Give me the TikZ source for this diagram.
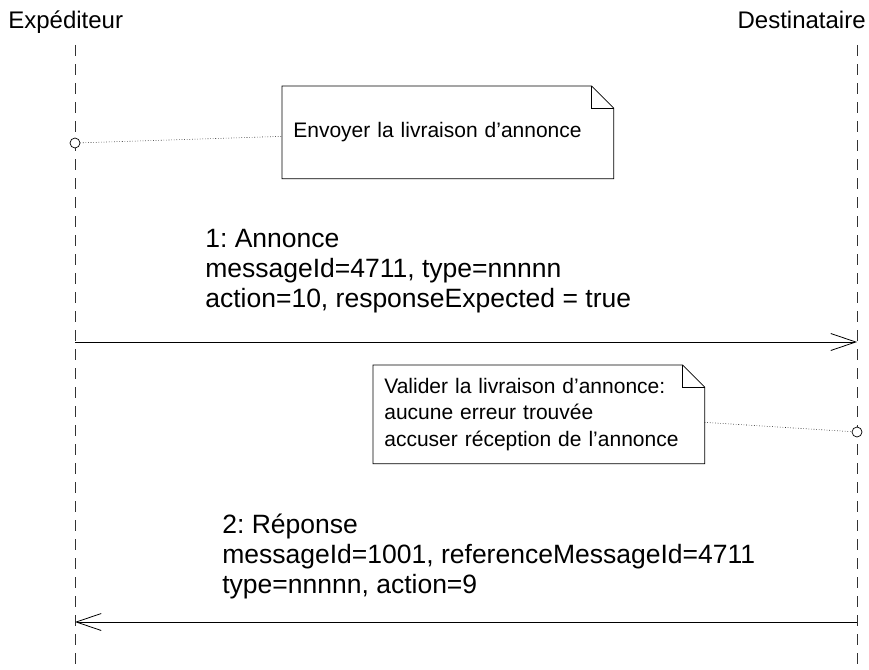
\documentclass[tikz,border=0pt]{standalone}
\usepackage{fontspec}
\setmainfont{Liberation Sans}
\usetikzlibrary{positioning, arrows.meta, calc}
\frenchspacing

\tikzset{
  lifeline/.style={draw=black!80, line width=0.7pt, dash pattern=on 11pt off 8pt},
  notebox/.style={inner xsep=11pt, minimum height=#1, align=left,
    font=\fontsize{21}{26.5}\selectfont, text width=309pt, anchor=north west},
  msgtext/.style={inner sep=0pt, align=left, anchor=west,
    font=\fontsize{26.5}{30}\selectfont},
  anchorpt/.style={circle, draw, fill=white, inner sep=0pt, minimum size=10pt},
  msg/.style={-{Straight Barb[length=25pt, width=17pt]}, line width=0.8pt}
}

\begin{document}
\begin{tikzpicture}[x=1pt, y=-1pt, line width=0.7pt]
  \useasboundingbox (0,0) rectangle (869,669);
  % actors
  \node[anchor=west, inner sep=0pt, font=\fontsize{24}{28}\selectfont] (exp) at (8,22) {Expéditeur};
  \node[anchor=east, inner sep=0pt, font=\fontsize{24}{28}\selectfont] (dst) at (866,20) {Destinataire};
  \coordinate (e0) at (75,45);   \coordinate (e1) at (75,669);
  \coordinate (d0) at (857,45);  \coordinate (d1) at (857,669);
  \draw[lifeline] (e0) -- (e1);
  \draw[lifeline] (d0) -- (d1);

  % notes
  \node[notebox=92pt] (n1) at (282,86) {Envoyer la livraison d’annonce};
  \draw (n1.north west) -- ($(n1.north east)+(-22,0)$) -- ($(n1.north east)+(0,22)$)
    -- (n1.south east) -- (n1.south west) -- cycle;
  \draw ($(n1.north east)+(-22,0)$) |- ($(n1.north east)+(0,22)$);
  \node[anchorpt] (c1) at (75,143) {};
  \draw[dotted, line width=0.6pt] (c1) -- ($(n1.west)+(0,4)$);

  \node[notebox=98pt] (n2) at (373,365) {Valider la livraison d’annonce:\\aucune erreur trouvée\\accuser réception de l’annonce};
  \draw (n2.north west) -- ($(n2.north east)+(-22,0)$) -- ($(n2.north east)+(0,22)$)
    -- (n2.south east) -- (n2.south west) -- cycle;
  \draw ($(n2.north east)+(-22,0)$) |- ($(n2.north east)+(0,22)$);
  \node[anchorpt] (c2) at (857,432) {};
  \draw[dotted, line width=0.6pt] ($(n2.east)+(0,8)$) -- (c2);

  % messages
  \node[msgtext] (m1) at (205,271) {1: Annonce\\messageId=4711, type=nnnnn\\action=10, responseExpected = true};
  \coordinate (a1) at (75,342);  \coordinate (b1) at (857,342);
  \draw[msg] (a1) -- (b1);

  \node[msgtext] (m2) at (222,556) {2: Réponse\\messageId=1001, referenceMessageId=4711\\type=nnnnn, action=9};
  \coordinate (a2) at (857,622); \coordinate (b2) at (75,622);
  \draw[msg] (a2) -- (b2);
\end{tikzpicture}
\end{document}
